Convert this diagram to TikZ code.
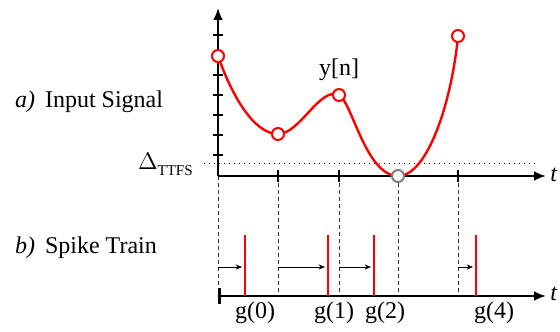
\documentclass[tikz,border=0pt]{standalone}
\usepackage{fontspec}
\newfontfamily\timesfont{Liberation Serif}
\usetikzlibrary{arrows.meta}

\begin{document}
\begin{tikzpicture}[x=0.5pt, y=-0.5pt, font=\timesfont\fontsize{12}{14}\selectfont,
    axis/.style={line width=1.4pt, -{Latex[length=6pt,width=5pt]}},
    sample/.style={circle, draw=red, line width=1pt, fill=white,
                   inner sep=0pt, minimum size=6pt},
    guide/.style={dash pattern=on 2pt off 1.5pt, gray!40!black, line width=0.5pt},
    spike/.style={red, line width=1pt},
    delay/.style={line width=0.4pt, -{Stealth[length=3.2pt,width=2.6pt]}}]
  \useasboundingbox (0,0) rectangle (560,331);

  % axes
  \coordinate (o1) at (218,176);
  \coordinate (o2) at (218,296);
  \coordinate (yend) at (218,8);
  \coordinate (xend1) at (546,176);
  \coordinate (xend2) at (546,296);

  % sample instants on both axes
  \foreach \n/\x in {0/218, 1/278, 2/339, 3/398, 4/458} {
    \coordinate (a\n) at (\x,176);
    \coordinate (b\n) at (\x,296);
  }
  \foreach \n in {0,...,4}
    \draw[guide] (a\n) -- (b\n);

  % threshold
  \coordinate (th1) at (204,163);
  \coordinate (th2) at (535,163);
  \draw[dotted, line width=0.5pt] (th1) -- (th2);

  \draw[axis] (o1) -- (yend);
  \draw[axis] (o1) -- (xend1);
  \draw[line width=1.4pt, {Bar[width=8pt]}-{Latex[length=6pt,width=5pt]}] (o2) -- (xend2);
  \foreach \y in {35,55,...,155}
    \draw[line width=0.9pt] (213,\y) -- (223,\y);
  \foreach \n in {1,2,4}
    \draw[line width=0.6pt] ([yshift=3pt]a\n) -- ([yshift=-3pt]a\n);

  % input signal
  \coordinate (s0) at (218,56);
  \coordinate (s1) at (278,134);
  \coordinate (s2) at (339,95);
  \coordinate (s3) at (398,176);
  \coordinate (s4) at (458,36);
  \draw[red, line width=1.2pt] (s0) .. controls (232,96) and (254,134) .. (s1)
    .. controls (300,134) and (320,86) .. (s2)
    .. controls (352,102) and (366,176) .. (s3)
    .. controls (428,176) and (452,100) .. (s4);
  \foreach \n in {0,1,2,4}
    \node[sample] (p\n) at (s\n) {};
  \node[sample, draw=gray] (p3) at (s3) {};

  % spike train
  \foreach \n/\x/\s in {0/245/218, 1/328/279, 2/374/339, 4/476/458} {
    \coordinate (k\n) at (\x,296);
    \coordinate (kt\n) at (\x,235);
    \coordinate (ds\n) at (\s,267);
    \coordinate (de\n) at (\x-3,267);
    \draw[spike] (k\n) -- (kt\n);
    \draw[delay] (ds\n) -- (de\n);
  }

  % labels
  \node (lyn) at (339,70) {y[n]};
  \node[anchor=west] (lin) at (8,102) {\textit{a)}\, Input Signal};
  \node[anchor=west] (lsp) at (8,248) {\textit{b)}\, Spike Train};
  \node[anchor=east, inner sep=0pt] (lth) at (193,164)
    {{\fontsize{13}{14}\selectfont$\Delta$}\raisebox{-3pt}{\fontsize{7.5}{8}\selectfont TTFS}};
  \node (lt1) at (554,175) {\textit{t}};
  \node (lt2) at (554,294) {\textit{t}};
  \foreach \n/\x in {0/255, 1/334, 2/385, 4/494}
    \node (lg\n) at (\x,313) {g(\n)};
\end{tikzpicture}
\end{document}
